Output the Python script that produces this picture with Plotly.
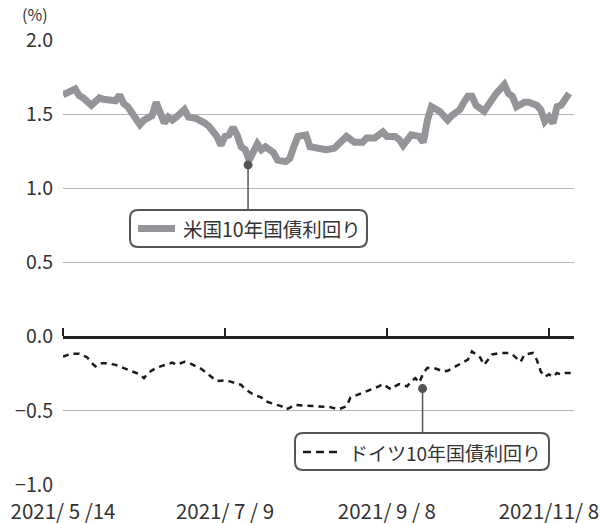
import plotly.graph_objects as go

# ---------------- data ----------------
tick_idx = [0, 40, 80, 120]
tick_labels = ["2021/ 5 /14", "2021/ 7 / 9", "2021/ 9 / 8", "2021/11/ 8"]

us_idx = [0, 1, 3, 4, 5, 7, 9, 10, 12, 13, 14, 15, 16, 17, 19, 20, 22, 23, 24, 25,
          26, 27, 28, 30, 31, 33, 35, 36, 38, 39, 40, 41, 42, 43, 44, 45, 46, 47, 48, 49,
          50, 52, 53, 55, 56, 57, 58, 60, 61, 63, 65, 67, 69, 70, 72, 74, 75, 77, 79, 80,
          82, 83, 84, 86, 88, 89, 90, 91, 93, 95, 96, 98, 99, 100, 101, 102, 104, 105, 106, 107,
          109, 110, 111, 112, 114, 115, 117, 118, 119, 120, 121, 122, 123, 124, 125]
us_yield = [1.63, 1.64, 1.67, 1.625, 1.61, 1.56, 1.61, 1.60, 1.60, 1.59, 1.63, 1.57, 1.55, 1.51, 1.43, 1.46, 1.49, 1.58, 1.51, 1.44,
            1.48, 1.46, 1.48, 1.53, 1.48, 1.47, 1.44, 1.42, 1.35, 1.29, 1.35, 1.36, 1.41, 1.36, 1.28, 1.26, 1.19, 1.26, 1.30, 1.26,
            1.28, 1.24, 1.19, 1.18, 1.20, 1.28, 1.35, 1.36, 1.28, 1.27, 1.26, 1.27, 1.33, 1.35, 1.31, 1.31, 1.34, 1.34, 1.38, 1.35,
            1.35, 1.33, 1.29, 1.36, 1.35, 1.31, 1.46, 1.55, 1.52, 1.46, 1.49, 1.53, 1.58, 1.62, 1.62, 1.56, 1.52, 1.56, 1.61, 1.64,
            1.70, 1.64, 1.62, 1.55, 1.58, 1.58, 1.56, 1.53, 1.45, 1.48, 1.44, 1.55, 1.56, 1.61, 1.64]

de_idx = [0, 2, 4, 6, 7, 8, 9, 11, 13, 15, 17, 19, 20, 21, 23, 25, 27, 28, 30, 31,
          33, 34, 35, 37, 38, 40, 41, 44, 45, 47, 49, 50, 52, 54, 55, 56, 57, 59, 61, 63,
          66, 68, 70, 71, 72, 74, 76, 78, 79, 81, 82, 83, 85, 86, 87, 88, 89, 90, 92, 94,
          95, 97, 98, 100, 101, 103, 104, 105, 106, 108, 110, 111, 113, 114, 116, 117, 118, 119, 120, 121,
          122, 123, 124, 126]
de_yield = [-0.135, -0.115, -0.115, -0.14, -0.175, -0.20, -0.18, -0.18, -0.19, -0.21, -0.235, -0.255, -0.28, -0.245, -0.21, -0.19, -0.175, -0.19, -0.17, -0.175,
            -0.20, -0.215, -0.235, -0.28, -0.30, -0.295, -0.30, -0.325, -0.355, -0.39, -0.41, -0.435, -0.45, -0.47, -0.49, -0.48, -0.46, -0.465, -0.47, -0.47,
            -0.475, -0.49, -0.47, -0.41, -0.40, -0.38, -0.36, -0.335, -0.32, -0.355, -0.335, -0.32, -0.335, -0.30, -0.28, -0.31, -0.245, -0.21, -0.215, -0.235,
            -0.23, -0.20, -0.19, -0.155, -0.10, -0.14, -0.19, -0.155, -0.12, -0.11, -0.11, -0.12, -0.17, -0.12, -0.11, -0.155, -0.235, -0.27, -0.255, -0.27,
            -0.245, -0.255, -0.245, -0.245]

us_name = "米国10年国債利回り"
de_name = "ドイツ10年国債利回り"
us_point = (45.7, 1.158)
de_point = (88.8, -0.35)

# ---------------- layout constants ----------------
W, H = 601, 523
ML, MR, MT, MB = 63, 27, 40, 38
X_RANGE = [0, 126.2]
Y_RANGE = [-1.0, 2.0]
FONT = "Noto Sans CJK JP"
TXT = "#333333"


def px(xp):
    return (xp - ML) / (W - ML - MR)


def py(yp):
    return (H - MB - yp) / (H - MT - MB)


def rounded_box(x0, y0, x1, y1, r=8):
    # pixel coords -> paper path with rounded corners
    rx = r / (W - ML - MR)
    ry = r / (H - MT - MB)
    a, b, c, d = px(x0), py(y1), px(x1), py(y0)  # left, bottom, right, top
    return (f"M{a+rx},{d} L{c-rx},{d} Q{c},{d} {c},{d-ry} L{c},{b+ry} Q{c},{b} {c-rx},{b} "
            f"L{a+rx},{b} Q{a},{b} {a},{b+ry} L{a},{d-ry} Q{a},{d} {a+rx},{d} Z")


fig = go.Figure()

fig.add_trace(go.Scatter(x=us_idx, y=us_yield, mode="lines",
                         line=dict(color="#939598", width=7, shape="linear"),
                         showlegend=False, hoverinfo="skip"))
fig.add_trace(go.Scatter(x=de_idx, y=de_yield, mode="lines",
                         line=dict(color="#1a1a1a", width=2.5, dash="6px,5px"),
                         showlegend=False, hoverinfo="skip"))
# helper trace for the zero axis with ticks
fig.add_trace(go.Scatter(x=[0], y=[0], xaxis="x2", mode="none",
                         showlegend=False, hoverinfo="skip"))

shapes = []
# connectors
for (xd, yd), ytop in [(us_point, 210), (de_point, 433)]:
    shapes.append(dict(type="line", xref="x", yref="y", x0=xd, x1=xd, y0=yd,
                       y1=(H - MB - ytop) / (H - MT - MB) * 3 - 1,
                       line=dict(color="#555555", width=1.5), layer="above"))
# boxes
shapes.append(dict(type="path", xref="paper", yref="paper", path=rounded_box(130, 210, 367, 247),
                   fillcolor="white", line=dict(color="#555555", width=2), layer="above"))
shapes.append(dict(type="path", xref="paper", yref="paper", path=rounded_box(295, 433, 549, 470),
                   fillcolor="white", line=dict(color="#555555", width=2), layer="above"))
# legend samples
shapes.append(dict(type="line", xref="paper", yref="paper", x0=px(138), x1=px(175), y0=py(228.5), y1=py(228.5),
                   line=dict(color="#939598", width=7), layer="above"))
shapes.append(dict(type="line", xref="paper", yref="paper", x0=px(303), x1=px(340), y0=py(452), y1=py(452),
                   line=dict(color="#1a1a1a", width=2.5, dash="8px,5px"), layer="above"))

fig.add_trace(go.Scatter(x=[us_point[0], de_point[0]], y=[us_point[1], de_point[1]], mode="markers",
                         marker=dict(color="#555555", size=9), showlegend=False, hoverinfo="skip"))

annotations = [
    dict(text=us_name, xref="paper", yref="paper", x=px(181), y=py(229), xanchor="left", yanchor="middle",
         showarrow=False, font=dict(family=FONT, size=19.5, color=TXT)),
    dict(text=de_name, xref="paper", yref="paper", x=px(347), y=py(452), xanchor="left", yanchor="middle",
         showarrow=False, font=dict(family=FONT, size=19, color=TXT)),
    dict(text="(%)", xref="paper", yref="paper", x=px(20), y=py(14), xanchor="left", yanchor="middle",
         showarrow=False, font=dict(family=FONT, size=16, color=TXT)),
]

fig.update_layout(
    template="none",
    width=W, height=H,
    margin=dict(l=ML, r=MR, t=MT, b=MB, pad=0, autoexpand=False),
    paper_bgcolor="white", plot_bgcolor="white",
    font=dict(family=FONT, color=TXT),
    shapes=shapes, annotations=annotations,
    xaxis=dict(range=X_RANGE, tickvals=tick_idx, ticktext=tick_labels, showgrid=False, automargin=False,
               zeroline=False, showline=False, ticks="", tickfont=dict(size=20.5, color=TXT),
               ticklabelstandoff=12),
    xaxis2=dict(range=X_RANGE, overlaying="x", anchor="free", position=1/3, side="top", automargin=False,
                tickvals=tick_idx, showticklabels=False, ticks="outside", ticklen=8, tickwidth=2.5,
                tickcolor="#222222", showline=True, linecolor="#222222", linewidth=3,
                showgrid=False, zeroline=False),
    yaxis=dict(range=Y_RANGE, tickvals=[-1.0, -0.5, 0.0, 0.5, 1.0, 1.5, 2.0], automargin=False,
               ticktext=["\u22121.0", "\u22120.5", "0.0", "0.5", "1.0", "1.5", "2.0"],
               showgrid=True, gridcolor="#b3b3b3", gridwidth=1, zeroline=False,
               showline=False, ticks="", tickfont=dict(size=19.5, color=TXT), ticklabelstandoff=9),
)

fig.write_html("out.html", config={"displayModeBar": False, "staticPlot": True},
               post_script="document.body.style.margin='0';document.body.style.overflow='hidden';")
